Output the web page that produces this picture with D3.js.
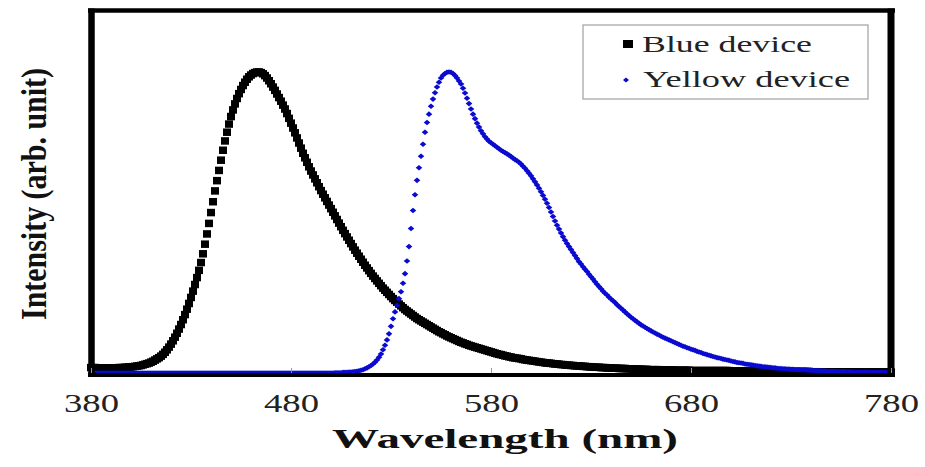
<!DOCTYPE html>
<html>
<head>
<meta charset="utf-8">
<script src="https://cdn.jsdelivr.net/npm/d3@7"></script>
<style>
  body { margin: 0; background: #fff; }
  svg { display: block; }
</style>
</head>
<body>
<svg id="chart" width="925" height="467"></svg>
<script>
// Electroluminescence spectra, sampled every 1 nm from 380 to 780 nm
const wavelengths = d3.range(380, 781);

const blueDevice = [
  .018,.018,.018,.017,.017,.017,.017,.017,.017,.017,
  .017,.017,.017,.017,.018,.018,.018,.019,.019,.020,
  .020,.021,.022,.023,.024,.025,.027,.029,.031,.033,
  .036,.039,.043,.047,.051,.056,.062,.069,.077,.086,
  .096,.107,.119,.132,.146,.161,.177,.194,.212,.231,
  .251,.272,.294,.317,.341,.367,.396,.428,.462,.497,
  .533,.569,.605,.639,.673,.707,.740,.771,.800,.827,
  .852,.874,.894,.912,.928,.942,.955,.966,.976,.984,
  .990,.995,.998,1.000,1.000,.998,.994,.988,.980,.971,
  .961,.950,.939,.927,.915,.903,.890,.877,.862,.846,
  .830,.814,.798,.781,.764,.747,.730,.715,.700,.685,
  .671,.658,.645,.632,.619,.606,.594,.582,.570,.558,
  .546,.534,.522,.510,.498,.486,.474,.463,.452,.441,
  .430,.419,.408,.398,.388,.378,.368,.358,.349,.340,
  .331,.322,.314,.306,.298,.290,.282,.275,.268,.261,
  .254,.247,.241,.235,.229,.223,.217,.211,.206,.201,
  .196,.191,.186,.181,.177,.173,.169,.165,.161,.157,
  .153,.149,.145,.141,.137,.134,.130,.127,.123,.120,
  .117,.114,.111,.108,.105,.102,.100,.097,.095,.092,
  .090,.088,.086,.084,.082,.080,.078,.076,.074,.072,
  .070,.068,.066,.064,.062,.061,.059,.057,.056,.054,
  .053,.051,.050,.049,.048,.047,.045,.044,.043,.042,
  .041,.040,.039,.038,.037,.036,.035,.034,.033,.033,
  .032,.031,.030,.030,.029,.028,.028,.027,.026,.026,
  .025,.025,.024,.024,.023,.023,.022,.022,.021,.021,
  .020,.020,.019,.019,.019,.018,.018,.018,.017,.017,
  .017,.016,.016,.016,.015,.015,.015,.015,.014,.014,
  .014,.013,.013,.013,.013,.012,.012,.012,.012,.011,
  .011,.011,.011,.011,.011,.010,.010,.010,.010,.010,
  .010,.010,.009,.009,.009,.009,.009,.009,.009,.009,
  .008,.008,.008,.008,.008,.008,.008,.008,.008,.008,
  .008,.008,.008,.008,.008,.008,.008,.008,.008,.008,
  .007,.007,.007,.007,.007,.007,.007,.007,.007,.007,
  .006,.006,.006,.006,.006,.006,.006,.006,.006,.006,
  .005,.005,.005,.005,.005,.005,.005,.005,.005,.005,
  .005,.005,.005,.005,.005,.005,.005,.005,.005,.005,
  .004,.004,.004,.004,.004,.004,.004,.004,.004,.004,
  .004,.004,.004,.004,.004,.004,.004,.004,.004,.004,
  .003,.003,.003,.003,.003,.003,.003,.003,.003,.003,
  .003,.003,.003,.003,.003,.003,.003,.003,.003,.003,
  .003
];

const yellowDevice = [
  0,0,0,0,0,0,0,0,0,0,0,0,0,0,0,0,0,0,0,0,
  0,0,0,0,0,0,0,0,0,0,0,0,0,0,0,0,0,0,0,0,
  0,0,0,0,0,0,0,0,0,0,0,0,0,0,0,0,0,0,0,0,
  0,0,0,0,0,0,0,0,0,0,0,0,0,0,0,0,0,0,0,0,
  0,0,0,0,0,0,0,0,0,0,0,0,0,0,0,0,0,0,0,0,
  0,0,0,0,0,0,0,0,0,0,0,0,0,0,0,0,0,0,0,0,
  .000,.000,.001,.001,.001,.001,.002,.002,.002,.003,
  .003,.004,.005,.006,.007,.009,.011,.014,.017,.021,
  .025,.030,.036,.043,.052,.063,.077,.092,.110,.130,
  .155,.180,.203,.225,.247,.270,.298,.330,.372,.420,
  .480,.540,.592,.640,.682,.720,.760,.800,.832,.860,
  .886,.910,.931,.950,.966,.980,.989,.995,.999,1.000,
  .999,.995,.988,.980,.970,.960,.946,.930,.913,.895,
  .877,.860,.845,.830,.817,.805,.795,.785,.777,.770,
  .765,.760,.755,.750,.745,.740,.736,.732,.728,.724,
  .719,.714,.709,.705,.700,.694,.687,.680,.672,.664,
  .655,.645,.635,.625,.614,.602,.590,.577,.564,.550,
  .535,.520,.505,.491,.478,.465,.453,.441,.430,.420,
  .410,.400,.390,.380,.370,.362,.353,.345,.337,.328,
  .320,.312,.303,.295,.287,.280,.272,.265,.259,.252,
  .246,.240,.234,.227,.221,.215,.209,.203,.197,.191,
  .185,.180,.175,.170,.165,.160,.156,.152,.148,.144,
  .140,.136,.133,.129,.126,.122,.119,.116,.113,.110,
  .107,.104,.101,.098,.095,.092,.089,.087,.084,.082,
  .079,.077,.075,.072,.070,.068,.065,.063,.061,.059,
  .057,.055,.053,.051,.050,.048,.046,.045,.043,.042,
  .040,.038,.037,.035,.034,.033,.032,.030,.029,.028,
  .027,.026,.025,.024,.023,.022,.021,.021,.020,.019,
  .018,.017,.017,.016,.015,.015,.014,.014,.013,.013,
  .012,.012,.011,.011,.011,.010,.010,.010,.009,.009,
  .009,.008,.008,.008,.008,.007,.007,.007,.006,.006,
  .006,.006,.006,.005,.005,.005,.005,.005,.004,.004,
  .004,.003,.003,.003,.003,.003,.003,.003,.003,.003,
  .002,.002,.002,.002,.002,.002,.002,.002,.002,.002,
  .002
];

const xTicks = [380, 480, 580, 680, 780];
const seriesNames = ["Blue device", "Yellow device"];
const xTitle = "Wavelength (nm)";
const yTitle = "Intensity (arb. unit)";

const BLACK = "#000";
const BLUE = "#0a0ad0";
const SERIF = "'Liberation Serif', 'Times New Roman', Times, serif";

const svg = d3.select("#chart");

const plot = { left: 91, right: 891, top: 10.5, bottom: 375 };

const x = d3.scaleLinear().domain([380, 780]).range([plot.left, plot.right]);
const y = d3.scaleLinear().domain([0, 1.2]).range([373, 11.8]);

const blueData = wavelengths.map((w, i) => ({ w, v: blueDevice[i] }));
const yellowData = wavelengths.map((w, i) => ({ w, v: yellowDevice[i] }));

// Blue device: black square markers
const sqW = 8, sqH = 7.5;
svg.append("g").attr("class", "series-blue")
  .selectAll("rect").data(blueData).join("rect")
  .attr("x", d => x(d.w) - sqW / 2)
  .attr("y", d => y(d.v) - sqH / 2)
  .attr("width", sqW)
  .attr("height", sqH)
  .attr("fill", BLACK);

// Yellow device: small blue diamond markers, drawn on top
const diamond = (hw, hh) => `M0,${-hh}L${hw},0L0,${hh}L${-hw},0Z`;
svg.append("g").attr("class", "series-yellow")
  .selectAll("path").data(yellowData).join("path")
  .attr("transform", d => `translate(${x(d.w)},${y(d.v)})`)
  .attr("d", diamond(3.3, 2.8))
  .attr("fill", BLUE);

// Plot frame
const frame = svg.append("g").attr("class", "frame").attr("stroke", "#000");
frame.append("line").attr("x1", 88).attr("x2", 895).attr("y1", plot.top).attr("y2", plot.top).attr("stroke-width", 4.5);
frame.append("line").attr("x1", 88).attr("x2", 895).attr("y1", plot.bottom).attr("y2", plot.bottom).attr("stroke-width", 4);
frame.append("line").attr("x1", 91.5).attr("x2", 91.5).attr("y1", 8.5).attr("y2", 377).attr("stroke-width", 6.5);
frame.append("line").attr("x1", 891).attr("x2", 891).attr("y1", 8.5).attr("y2", 377).attr("stroke-width", 7);

// X axis with small inward ticks
const xAxis = d3.axisBottom(x).tickValues(xTicks).tickSize(-5).tickFormat(d3.format("d"));
const gx = svg.append("g").attr("transform", `translate(0,${plot.bottom - 2})`).call(xAxis);
gx.select(".domain").remove();
gx.selectAll(".tick line").attr("stroke", "#999").attr("stroke-width", 1);
gx.selectAll(".tick text")
  .attr("y", 39).attr("dy", 0)
  .attr("x", -27.5)
  .attr("text-anchor", "start")
  .attr("textLength", 55)
  .attr("lengthAdjust", "spacingAndGlyphs")
  .attr("fill", "#222")
  .style("font-family", SERIF)
  .style("font-size", "25px");

// Axis titles
svg.append("text")
  .attr("x", 332).attr("y", 448)
  .attr("textLength", 346).attr("lengthAdjust", "spacingAndGlyphs")
  .style("font-family", SERIF).style("font-weight", "bold").style("font-size", "27px")
  .attr("fill", "#111")
  .text(xTitle);

svg.append("text")
  .attr("transform", "translate(46,320) rotate(-90)")
  .attr("textLength", 252).attr("lengthAdjust", "spacingAndGlyphs")
  .style("font-family", SERIF).style("font-weight", "bold").style("font-size", "35px")
  .attr("fill", "#111")
  .text(yTitle);

// Legend
const legend = svg.append("g").attr("class", "legend");
legend.append("rect")
  .attr("x", 583).attr("y", 25).attr("width", 285).attr("height", 74)
  .attr("fill", "#fff").attr("stroke", "#a8a8a8").attr("stroke-width", 1.3);
legend.append("rect")
  .attr("x", 623).attr("y", 40).attr("width", 10).attr("height", 8)
  .attr("fill", BLACK);
legend.append("path")
  .attr("transform", "translate(626,80)")
  .attr("d", diamond(3, 2.6))
  .attr("fill", BLUE);
const legendText = [
  { label: seriesNames[0], x: 642, y: 52, len: 170 },
  { label: seriesNames[1], x: 643, y: 87, len: 207 }
];
legend.selectAll("text.lbl").data(legendText).join("text")
  .attr("class", "lbl")
  .attr("x", d => d.x).attr("y", d => d.y)
  .attr("textLength", d => d.len).attr("lengthAdjust", "spacingAndGlyphs")
  .attr("fill", "#222")
  .style("font-family", SERIF).style("font-size", "23px")
  .text(d => d.label);
</script>
</body>
</html>
